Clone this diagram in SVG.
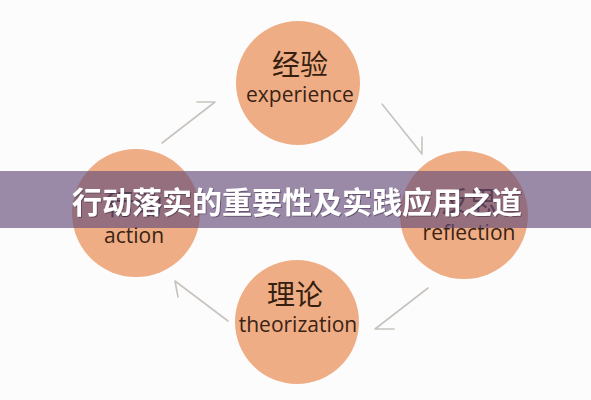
<svg xmlns="http://www.w3.org/2000/svg" width="591" height="400" viewBox="0 0 591 400">
  <defs>
    <filter id="shadow" x="-5%" y="-30%" width="110%" height="160%">
      <feDropShadow dx="1" dy="1" stdDeviation="0.6" flood-color="#3a2a44" flood-opacity="0.55"/>
    </filter>
  </defs>
  <style>
    .node circle { fill: #eead84; }
    .zh { font-family: "Noto Sans CJK SC", "Noto Sans", sans-serif; font-size: 28px; fill: #35200f; text-anchor: middle; }
    .en { font-family: "Open Sans", "Liberation Sans", sans-serif; font-size: 21px; fill: #3a2214; text-anchor: middle; }
    .arrow { fill: none; stroke: #c8c3be; stroke-width: 1.6; stroke-linecap: round; stroke-linejoin: round; }
    .title { font-family: "Noto Sans CJK SC", "Noto Sans", sans-serif; font-size: 30px; font-weight: bold; text-anchor: middle; fill: #ffffff; filter: url(#shadow); }
  </style>
  <rect width="591" height="400" fill="#fcfcfc"/>
  <g id="connectors">
    <path class="arrow" d="M162,143 L215,102 L197,102"/>
    <path class="arrow" d="M382,104 L422,154 L422,137"/>
    <path class="arrow" d="M428,288 L375,329 L394,329"/>
    <path class="arrow" d="M228,321 L175,281 L178,297"/>
  </g>
  <g id="node-experience" class="node">
    <circle cx="298" cy="83" r="62"/>
    <text class="zh" x="300" y="75">经验</text>
    <text class="en" x="300" y="102">experience</text>
  </g>
  <g id="node-reflection" class="node">
    <circle cx="464" cy="215" r="64"/>
    <text class="zh" x="469" y="212">反思</text>
    <text class="en" x="469" y="240">reflection</text>
  </g>
  <g id="node-theorization" class="node">
    <circle cx="297" cy="322" r="62"/>
    <text class="zh" x="295" y="305">理论</text>
    <text class="en" x="298" y="332">theorization</text>
  </g>
  <g id="node-action" class="node">
    <circle cx="136" cy="213" r="64"/>
    <text class="zh" x="134" y="215">行动</text>
    <text class="en" x="134" y="243">action</text>
  </g>
  <g id="banner">
    <rect x="0" y="171" width="591" height="57" fill="#694f7b" fill-opacity="0.66"/>
    <text class="title" x="297" y="213">行动落实的重要性及实践应用之道</text>
  </g>
</svg>
